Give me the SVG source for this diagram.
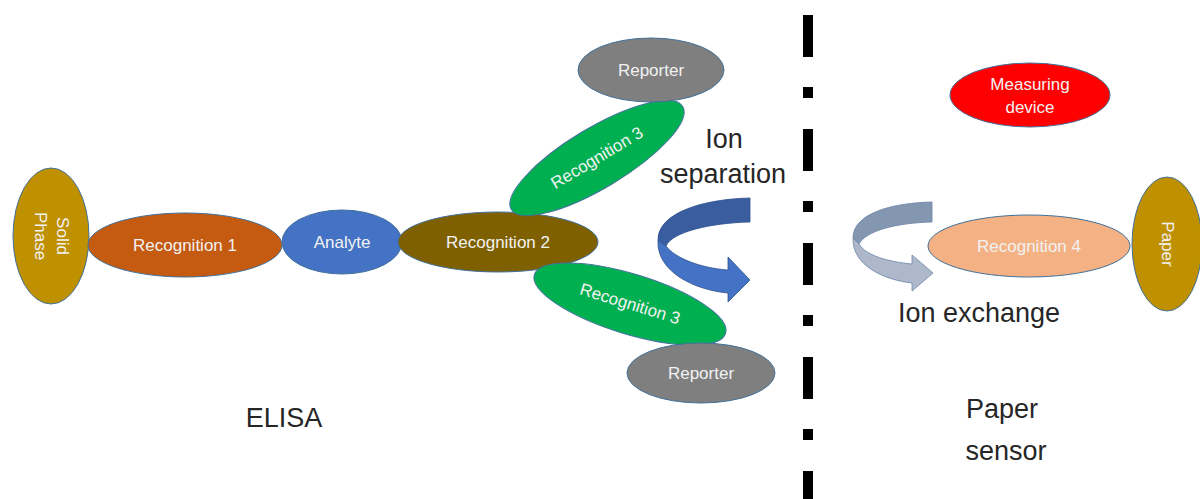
<svg xmlns="http://www.w3.org/2000/svg" width="1200" height="499" viewBox="0 0 1200 499">
<style>
.n{stroke:#41719C;stroke-width:1}
.l{font-family:"Liberation Sans",Arial,sans-serif;font-size:17px;fill:#F2F2F2;text-anchor:middle;dominant-baseline:central}
.t{font-family:"Liberation Sans",Arial,sans-serif;font-size:27px;fill:#262626;text-anchor:middle}
</style>
<rect width="1200" height="499" fill="#FFFFFF"/>
<g id="divider">
<line x1="808" y1="15" x2="808" y2="499" stroke="#000" stroke-width="10" stroke-dasharray="42 30 11 31"/>
</g>
<g id="connectors">
<g id="ion-separation-arrow" stroke="#2F528F" stroke-width="0.8">
<path d="M750,198 C705,199 658,212 658,240 L666,246 C672,232 710,223 750,222 Z" fill="#3A5DA0"/>
<path d="M658,240 C656,272 695,290 728,293 L728,302 L750,280 L728,257 L728,270 C700,268 675,258 666,246 Z" fill="#4472C4"/>
</g>
<g id="ion-exchange-arrow" stroke="#6A83A8" stroke-width="0.8">
<path d="M932,202 C890,203 853,214 853,238 L859,244 C866,231 895,223 932,222 Z" fill="#8497B0"/>
<path d="M853,238 C852,266 885,280 912,283 L912,291 L933,273 L912,255 L912,264 C890,262 866,256 859,244 Z" fill="#ADB9CA"/>
</g>
</g>
<g id="solid-phase">
<ellipse class="n" cx="51" cy="236" rx="38" ry="68" fill="#BF9000"/>
<g transform="translate(51,236) rotate(90)">
<text class="l" x="0" y="-11">Solid</text>
<text class="l" x="0" y="11">Phase</text>
</g>
</g>
<g id="recognition-1">
<ellipse class="n" cx="185" cy="245" rx="97" ry="32" fill="#C55A11"/>
<text class="l" x="185" y="245">Recognition 1</text>
</g>
<g id="analyte">
<ellipse class="n" cx="342" cy="242" rx="60" ry="32" fill="#4472C4"/>
<text class="l" x="342" y="242">Analyte</text>
</g>
<g id="recognition-2">
<ellipse class="n" cx="498" cy="242" rx="100" ry="30" fill="#7F6000"/>
<text class="l" x="498" y="242">Recognition 2</text>
</g>
<g id="recognition-3-upper">
<g transform="translate(597,158) rotate(-31)">
<ellipse class="n" cx="0" cy="0" rx="100" ry="30" fill="#00B050"/>
<text class="l" x="0" y="0">Recognition 3</text>
</g>
</g>
<g id="recognition-3-lower">
<g transform="translate(630,304) rotate(17)">
<ellipse class="n" cx="0" cy="0" rx="100" ry="30" fill="#00B050"/>
<text class="l" x="0" y="0">Recognition 3</text>
</g>
</g>
<g id="reporter-upper">
<ellipse class="n" cx="651" cy="70" rx="73" ry="32" fill="#7F7F7F"/>
<text class="l" x="651" y="70">Reporter</text>
</g>
<g id="reporter-lower">
<ellipse class="n" cx="701" cy="373" rx="74" ry="30" fill="#7F7F7F"/>
<text class="l" x="701" y="373">Reporter</text>
</g>
<g id="measuring-device">
<ellipse class="n" cx="1030" cy="95" rx="80" ry="32" fill="#FF0000"/>
<text class="l" x="1030" y="84">Measuring</text>
<text class="l" x="1030" y="107">device</text>
</g>
<g id="recognition-4">
<ellipse class="n" cx="1029" cy="246" rx="101" ry="31" fill="#F4B183"/>
<text class="l" x="1029" y="246">Recognition 4</text>
</g>
<g id="paper">
<ellipse class="n" cx="1167" cy="244" rx="35" ry="67" fill="#BF9000"/>
<text class="l" transform="translate(1167,244) rotate(90)" x="0" y="0">Paper</text>
</g>
<g id="labels">
<text class="t" x="724" y="148" font-size="28">Ion</text>
<text class="t" x="723" y="183" font-size="28">separation</text>
<text class="t" x="979" y="322">Ion exchange</text>
<text class="t" x="284" y="427">ELISA</text>
<text class="t" x="1002" y="418" font-size="30">Paper</text>
<text class="t" x="1006" y="460" font-size="30">sensor</text>
</g>
</svg>
